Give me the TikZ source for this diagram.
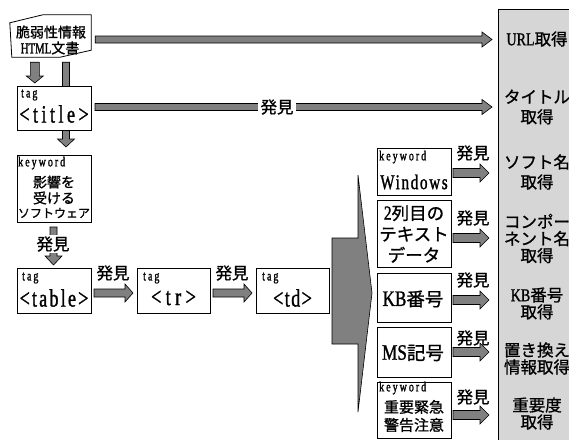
\documentclass[tikz,border=0pt]{standalone}
\usepackage{fontspec}
\setmainfont{Liberation Serif}[FakeStretch=0.78,FakeBold=1.2]
\newfontfamily\tagf{Liberation Serif}[FakeStretch=0.72,FakeBold=1.2]
\newfontfamily\cjk{Noto Sans CJK JP}[FakeBold=1]
\usetikzlibrary{calc}
\definecolor{arrgray}{gray}{0.5}
\definecolor{panelgray}{gray}{0.84}
\newcommand\fsz[1]{\fontsize{#1}{#1}\selectfont}
\newcommand\fatR[5]{\path[fat] let \p1=#1, \p2=#2 in (\x1,\y1+#3) -- (\x2-#5,\y1+#3) -- (\x2-#5,\y1+#4) -- (\x2,\y1) -- (\x2-#5,\y1-#4) -- (\x2-#5,\y1-#3) -- (\x1,\y1-#3) -- cycle;}
\newcommand\fatD[5]{\path[fat] let \p1=#1, \p2=#2 in (\x1-#3,\y1) -- (\x1-#3,\y2+#5) -- (\x1-#4,\y2+#5) -- (\x1,\y2) -- (\x1+#4,\y2+#5) -- (\x1+#3,\y2+#5) -- (\x1+#3,\y1) -- cycle;}
\begin{document}
\begin{tikzpicture}[x=1pt,y=-1pt,
  box/.style={draw, fill=white, line width=0.8pt, inner sep=0pt, outer sep=0pt},
  fat/.style={draw, fill=arrgray, line width=0.6pt, line join=miter},
  found/.style={font={\cjk\fsz{16.5}}, inner sep=0.5pt},
  foundw/.style={found, fill=white, inner xsep=2.5pt},
  tagsm/.style={font={\tagf\fsz{14}\addfontfeature{LetterSpace=14}}, inner sep=0pt, anchor=west},
  big/.style={font={\tagf\fsz{25}}, inner sep=0pt},
  cj/.style={font=\cjk, inner sep=0pt, align=center},
  pnl/.style={font={\cjk\fontsize{16.5}{17}\selectfont}, inner sep=0pt, align=center}
]
\clip (0,0) rectangle (569,439);
% right panel
\node[draw, fill=panelgray, line width=0.8pt, minimum width=120pt, minimum height=460pt, anchor=north west, inner sep=0pt] (panel) at (498,9) {};
\node[pnl] (p1) at (537,39) {{\rmfamily\fsz{18}URL}取得};
\node[pnl, font={\cjk\fontsize{16.5}{20}\selectfont}] (p2) at (537,107) {タイトル\\取得};
\node[pnl, font={\cjk\fontsize{16.5}{20}\selectfont}] (p3) at (537,172) {ソフト名\\取得};
\node[pnl] (p4) at (537,238.5) {コンポー\\ネント名\\取得};
\node[pnl] (p5) at (537,303.5) {{\rmfamily\fsz{18}KB}番号\\取得};
\node[pnl] (p6) at (537,358.5) {置き換え\\情報取得};
\node[pnl] (p7) at (537,413.5) {重要度\\取得};

% document shape
\node[minimum width=81pt, minimum height=42pt, inner sep=0pt] (doc) at (50.5,36) {};
\draw[line width=0.8pt, fill=white] ($(doc.north west)+(0,8)$) -- ($(doc.north west)+(33,0)$) -- (doc.north east) -- ($(doc.south east)+(0,-7)$) -- ($(doc.south east)+(-31,0)$) -- ($(doc.south west)+(2,0)$) -- cycle;
\node[cj, font={\cjk\fsz{14}}] (doct1) at (51,32) {脆弱性情報};
\node[inner sep=0pt] (doct2) at (50,48) {{\tagf\fsz{15}HTML}{\cjk\fsz{14}文書}};

% keyword box
\node[box, minimum width=74pt, minimum height=67pt] (kw) at (54,188.5) {};
\node[tagsm] (kwa) at (18,163) {keyword};
\node[cj, font={\cjk\fontsize{14}{16}\selectfont}] (kwb) at (54,190) {影響を\\受ける};
\node[cj, font={\cjk\fsz{12}}] (kwc) at (54,213) {ソフトウェア};

% doc -> keyword (behind title)
\fatD{($(doc.south)+(15.5,5)$)}{($(kw.north)+(12,-8)$)}{3.5pt}{8.5pt}{8pt}

% title box
\node[box, minimum width=74pt, minimum height=44pt] (title) at (54,108) {};
\node[tagsm] (titlea) at (21,95) {tag};
\node[big] (titleb) at (54,114) {\addfontfeature{LetterSpace=14}<title>};

% doc -> title
\fatD{($(doc.south west)+(25,5)$)}{($(title.north)+(-19,-3)$)}{4.5pt}{8.5pt}{7pt}
% doc -> panel
\fatR{($(doc.east)+(4,3.5)$)}{($(panel.west)+(-6,0)$)}{3.5pt}{7.5pt}{10pt}
% title -> panel
\fatR{($(title.east)+(4,-1)$)}{($(panel.west)+(-6,0)$)}{3.5pt}{7.5pt}{10pt}
\node[foundw] (f1) at (277,107) {発見};

% table, tr, td
\node[box, minimum width=74pt, minimum height=45pt] (table) at (54,290.5) {};
\node[tagsm] (tablea) at (22,278) {tag};
\node[big] (tableb) at (54,298) {\addfontfeature{LetterSpace=9}<table>};
\node[box, minimum width=73pt, minimum height=45pt] (tr) at (173.5,290.5) {};
\node[tagsm] (tra) at (143,278) {tag};
\node[big] (trb) at (173.5,298) {\addfontfeature{LetterSpace=18}<tr>};
\node[box, minimum width=73pt, minimum height=45pt] (td) at (292.5,290.5) {};
\node[tagsm] (tda) at (262,278) {tag};
\node[big] (tdb) at (292.5,298) {\addfontfeature{LetterSpace=6}<td>};

% keyword -> table
\fatD{($(kw.south)+(-0.5,5)$)}{($(table.north)+(-0.5,-3)$)}{3.5pt}{8.5pt}{9pt}
\node[foundw, inner ysep=1pt] (f2) at (53,244) {発見};
% table -> tr -> td
\fatR{($(table.east)+(3,2.5)$)}{($(tr.west)+(-4,0)$)}{4pt}{9pt}{8pt}
\node[found] (f3) at (113,273) {発見};
\fatR{($(tr.east)+(3,2.5)$)}{($(td.west)+(-4,0)$)}{4pt}{9pt}{8pt}
\node[found] (f4) at (232,273) {発見};

% big splitting arrow
\draw[fat] (332,238) -- (358,238) -- (358,175) -- (372,293) -- (358,412) -- (358,344) -- (332,344) -- cycle;

% right boxes
\node[box, minimum width=74pt, minimum height=47pt] (r1) at (414,171.5) {};
\node[tagsm] (r1a) at (379,157) {keyword};
\node[big, font={\tagf\fsz{21}\addfontfeature{LetterSpace=8}}] (r1b) at (414,182) {Windows};
\node[box, minimum width=74pt, minimum height=67pt] (r2) at (414,233.5) {};
\node[cj, font={\cjk\fontsize{17.5}{21}\selectfont}] (r2a) at (414,234) {{\rmfamily\fsz{20}2}列目の\\テキスト\\データ};
\node[box, minimum width=74pt, minimum height=49pt] (r3) at (414,297.5) {};
\node[inner sep=0pt] (r3a) at (413,299) {{\rmfamily\fsz{22}KB}{\cjk\fsz{18.5}番号}};
\node[box, minimum width=74pt, minimum height=50pt] (r4) at (414,352) {};
\node[inner sep=0pt] (r4a) at (413,353) {{\rmfamily\fsz{22}MS}{\cjk\fsz{18.5}記号}};
\node[box, minimum width=74pt, minimum height=56pt] (r5) at (414,410) {};
\node[tagsm] (r5a) at (379,388) {keyword};
\node[cj, font={\cjk\fontsize{15}{18}\selectfont}] (r5b) at (414,416) {重要緊急\\警告注意};

% right arrows
\fatR{($(r1.east)+(2,1.5)$)}{($(panel.west)+(-9,0)$)}{4.5pt}{9pt}{9pt}
\node[found] (g1) at (473,153) {発見};
\fatR{($(r2.east)+(2,4.5)$)}{($(panel.west)+(-9,0)$)}{4.5pt}{9pt}{9pt}
\node[found] (g2) at (473,218) {発見};
\fatR{($(r3.east)+(2,2.5)$)}{($(panel.west)+(-9,0)$)}{4.5pt}{9pt}{9pt}
\node[found] (g3) at (473,280) {発見};
\fatR{($(r4.east)+(2,0)$)}{($(panel.west)+(-9,0)$)}{4.5pt}{9pt}{9pt}
\node[found] (g4) at (473,338) {発見};
\fatR{($(r5.east)+(2,5)$)}{($(panel.west)+(-9,0)$)}{4.5pt}{9pt}{9pt}
\node[found] (g5) at (473,397) {発見};
\end{tikzpicture}
\end{document}
